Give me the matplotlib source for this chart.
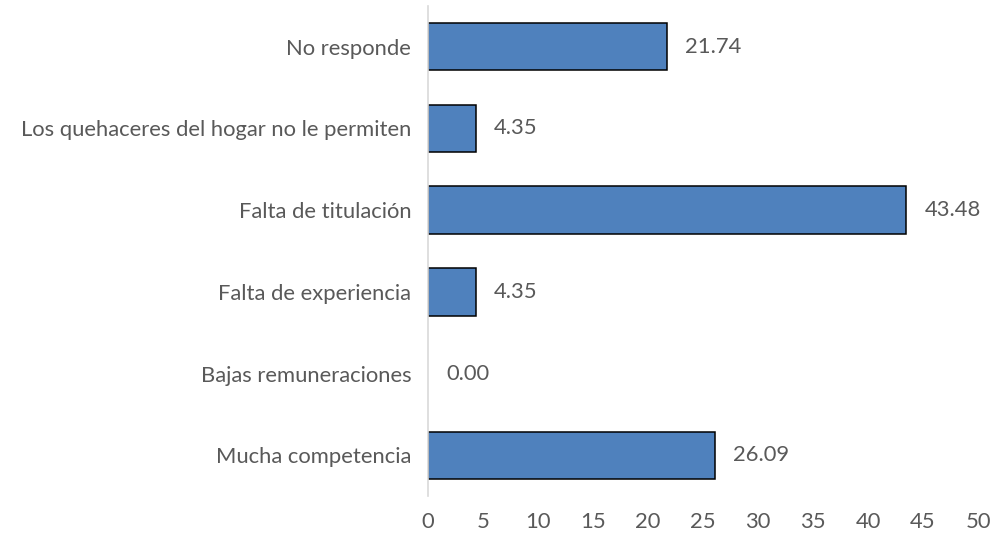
import matplotlib
matplotlib.use("Agg")
import matplotlib.pyplot as plt

categories = ["No responde", "Los quehaceres del hogar no le permiten", "Falta de titulación",
              "Falta de experiencia", "Bajas remuneraciones", "Mucha competencia"]
values = [21.74, 4.35, 43.48, 4.35, 0.00, 26.09]
xticks = [0, 5, 10, 15, 20, 25, 30, 35, 40, 45, 50]

plt.rcParams['font.family'] = ['Lato', 'DejaVu Sans']
txt = '#595959'
fs = 15.8

fig = plt.figure(figsize=(9.93, 5.33), dpi=100)
ax = fig.add_axes([0.431, 0.069, 0.554, 0.92])

ypos = list(range(len(categories)))
lws = [1.1 if v > 0 else 0 for v in values]
bars = ax.barh(ypos, values, height=0.58, color='#4F81BD', edgecolor='black', linewidth=lws)
ax.set_ylim(len(categories) - 0.5, -0.5)
ax.set_xlim(0, 50)
ax.set_yticks(ypos)
ax.set_yticklabels(categories)
ax.set_xticks(xticks)
ax.set_xticklabels([str(t) for t in xticks])
ax.tick_params(axis='y', length=0, pad=12, labelsize=fs, labelcolor=txt)
ax.tick_params(axis='x', length=0, pad=11, labelsize=fs, labelcolor=txt)
for s in ['top', 'right', 'bottom']:
    ax.spines[s].set_visible(False)
ax.spines['left'].set_color('#D9D9D9')
ax.spines['left'].set_linewidth(1.2)
ax.spines['left'].set_zorder(3)

for y, v in zip(ypos, values):
    ax.annotate(f"{v:.2f}", xy=(v, y), xytext=(13, 0), textcoords='offset points',
                va='center', ha='left', fontsize=fs, color=txt)

fig.savefig('out.png', dpi=100)
